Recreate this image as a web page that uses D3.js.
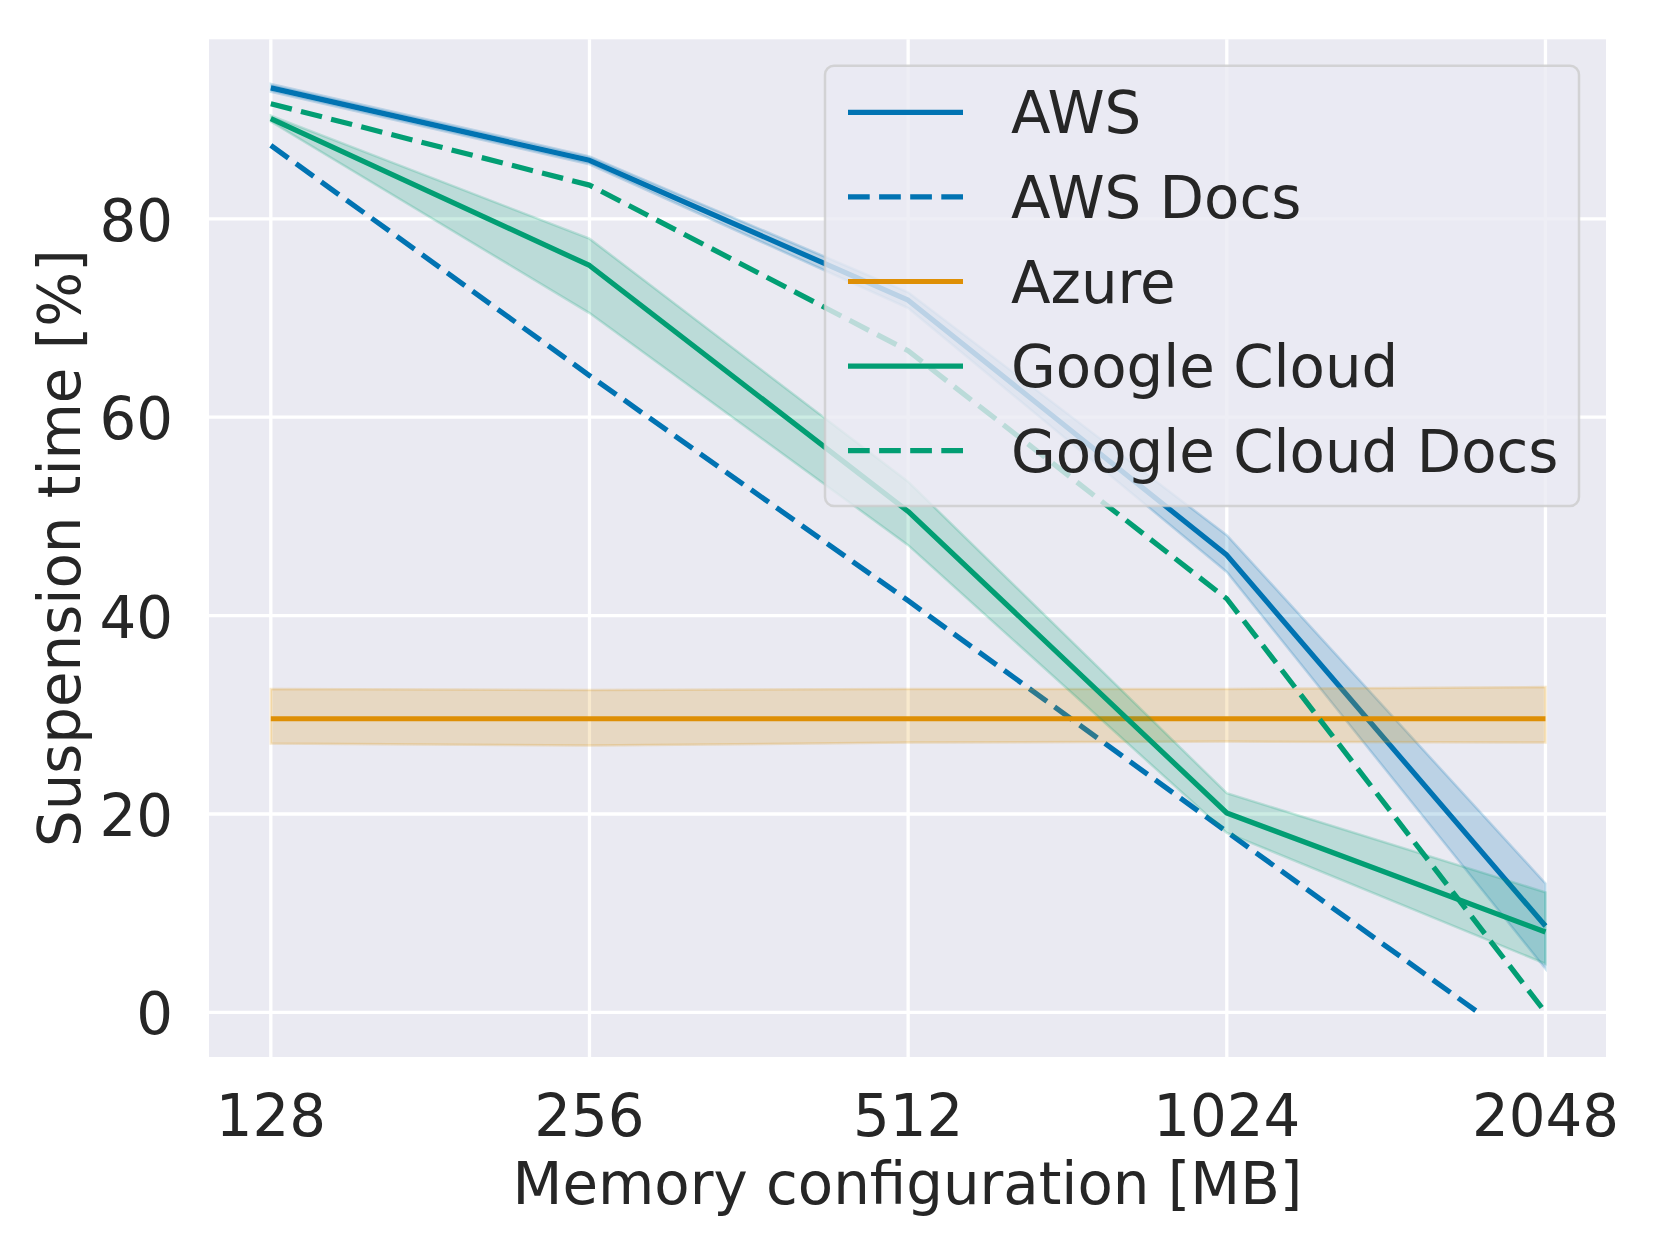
<!DOCTYPE html>
<html>
<head>
<meta charset="utf-8">
<script src="https://cdn.jsdelivr.net/npm/d3@7"></script>
<style>
  body { margin: 0; background: #fff; }
  text { font-family: "DejaVu Sans", sans-serif; fill: #262626; }
</style>
</head>
<body>
<div id="chart"></div>
<script>
// Data
const memory = [128, 256, 512, 1024, 2048];
const yTicks = [0, 20, 40, 60, 80];

const awsMean = [93.2, 85.9, 71.8, 46.1, 8.7];
const awsLow = [92.8, 85.5, 71.0, 44.4, 4.4];
const awsHigh = [93.6, 86.3, 72.6, 48.1, 13.0];

const awsDocsMemory = [128, 256, 512, 1024, 1769];
const awsDocs = [87.4, 64.2, 41.5, 18.2, 0];

const azureMean = [29.6, 29.6, 29.6, 29.6, 29.6];
const azureLow = [27.1, 26.9, 27.2, 27.3, 27.2];
const azureHigh = [32.6, 32.5, 32.6, 32.6, 32.8];

const gcMean = [90.1, 75.3, 50.5, 20.1, 8.1];
const gcLow = [89.8, 70.5, 47.1, 18.1, 4.9];
const gcHigh = [90.4, 78.0, 53.5, 22.1, 12.1];

const gcDocs = [91.6, 83.4, 66.7, 41.7, 0];

const legendNames = ["AWS", "AWS Docs", "Azure", "Google Cloud", "Google Cloud Docs"];

// Skeleton
const W = 1660, H = 1245;
const pLeft = 209, pRight = 1606, pTop = 39.3, pBottom = 1057;
const fontSize = 57.8;

const blue = "#0173b2", orange = "#de8f05", green = "#029e73";
const dash = "21.7,9.4";

const svg = d3.select("#chart")
    .append("svg")
    .attr("width", W)
    .attr("height", H);

// log2 axis with the usual 5% padding
const x = d3.scaleLog().base(2)
    .domain([Math.pow(2, 6.806), Math.pow(2, 11.19)])
    .range([pLeft, pRight]);

const y = d3.scaleLinear()
    .domain([-4.5, 98.1])
    .range([pBottom, pTop]);

svg.append("rect")
    .attr("x", pLeft).attr("y", pTop)
    .attr("width", pRight - pLeft).attr("height", pBottom - pTop)
    .attr("fill", "#eaeaf2");

// grid
svg.append("g")
    .selectAll("line")
    .data(yTicks)
    .join("line")
        .attr("x1", pLeft).attr("x2", pRight)
        .attr("y1", d => y(d)).attr("y2", d => y(d))
        .attr("stroke", "#fff").attr("stroke-width", 3.3);

svg.append("g")
    .selectAll("line")
    .data(memory)
    .join("line")
        .attr("x1", d => x(d)).attr("x2", d => x(d))
        .attr("y1", pTop).attr("y2", pBottom)
        .attr("stroke", "#fff").attr("stroke-width", 3.3);

// tick labels
svg.append("g")
    .selectAll("text")
    .data(yTicks)
    .join("text")
        .attr("x", 173)
        .attr("y", d => y(d) + 22)
        .attr("text-anchor", "end")
        .attr("font-size", fontSize)
        .text(d => d);

svg.append("g")
    .selectAll("text")
    .data(memory)
    .join("text")
        .attr("x", d => x(d))
        .attr("y", 1135.5)
        .attr("text-anchor", "middle")
        .attr("font-size", fontSize)
        .text(d => d);

svg.append("text")
    .attr("x", (pLeft + pRight) / 2)
    .attr("y", 1204)
    .attr("text-anchor", "middle")
    .attr("font-size", fontSize)
    .text("Memory configuration [MB]");

svg.append("text")
    .attr("transform", `translate(80, ${(pTop + pBottom) / 2}) rotate(-90)`)
    .attr("text-anchor", "middle")
    .attr("font-size", fontSize)
    .text("Suspension time [%]");

// helpers
const line = d3.line()
    .x(d => x(d[0]))
    .y(d => y(d[1]));

const area = d3.area()
    .x(d => x(d[0]))
    .y0(d => y(d[1]))
    .y1(d => y(d[2]));

function band(lo, hi, color) {
    svg.append("path")
        .attr("d", area(memory.map((m, i) => [m, lo[i], hi[i]])))
        .attr("fill", color)
        .attr("fill-opacity", 0.2)
        .attr("stroke", color)
        .attr("stroke-opacity", 0.2)
        .attr("stroke-width", 2.5);
}

function series(xs, vals, color, dashed) {
    svg.append("path")
        .attr("d", line(xs.map((m, i) => [m, vals[i]])))
        .attr("fill", "none")
        .attr("stroke", color)
        .attr("stroke-width", 5.2)
        .attr("stroke-linejoin", "round")
        .attr("stroke-dasharray", dashed ? dash : null);
}

band(awsLow, awsHigh, blue);
series(memory, awsMean, blue, false);
series(awsDocsMemory, awsDocs, blue, true);
band(azureLow, azureHigh, orange);
series(memory, azureMean, orange, false);
band(gcLow, gcHigh, green);
series(memory, gcMean, green, false);
series(memory, gcDocs, green, true);

// legend
const legendColors = [blue, blue, orange, green, green];
const legendDashed = [false, true, false, false, true];

const legend = svg.append("g");
legend.append("rect")
    .attr("x", 825).attr("y", 65.7)
    .attr("width", 754).attr("height", 440.3)
    .attr("rx", 9)
    .attr("fill", "#eaeaf2").attr("fill-opacity", 0.8)
    .attr("stroke", "#cccccc").attr("stroke-opacity", 0.8)
    .attr("stroke-width", 2.5);

const rows = legend.selectAll("g.row")
    .data(legendNames)
    .join("g")
        .attr("class", "row")
        .attr("transform", (d, i) => `translate(0, ${112.3 + i * 84.6})`);

rows.append("line")
    .attr("x1", 848).attr("x2", 963)
    .attr("stroke", (d, i) => legendColors[i])
    .attr("stroke-width", 5.2)
    .attr("stroke-dasharray", (d, i) => legendDashed[i] ? dash : null);

rows.append("text")
    .attr("x", 1011)
    .attr("y", 21)
    .attr("font-size", fontSize)
    .text(d => d);
</script>
</body>
</html>
